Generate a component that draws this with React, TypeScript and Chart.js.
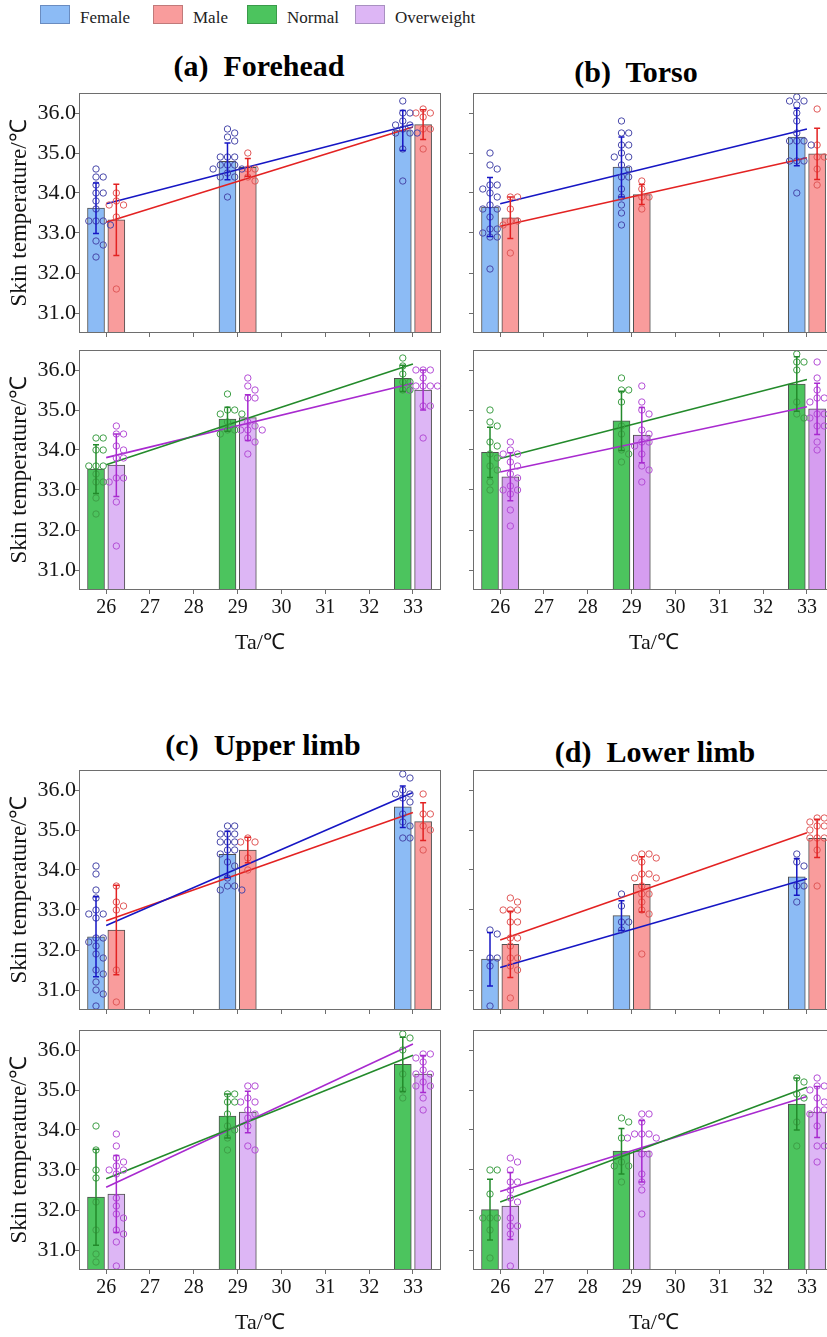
import { useEffect, useRef } from 'react';
import { Chart, registerables } from 'chart.js';

Chart.register(...registerables);

const FONT = "'Liberation Serif', 'Times New Roman', Times, serif";
Chart.defaults.font.family = FONT;

// ---------------- data ----------------
const temps = [26, 29, 33];
const xTickValues = [26, 27, 28, 29, 30, 31, 32, 33];
const yTickValues = [31, 32, 33, 34, 35, 36];
const fitX = [26, 33];
const legendLabels = ['Female', 'Male', 'Normal', 'Overweight'];
const panelTitles = ['(a)  Forehead', '(b)  Torso', '(c)  Upper limb', '(d)  Lower limb'];
const xTitle = 'Ta/℃';
const yTitle = 'Skin temperature/℃';

// (a) Forehead
const foreheadFemaleMean = [33.62, 34.79, 35.56];
const foreheadFemaleSd = [0.63, 0.46, 0.5];
const foreheadFemaleFit = [33.73, 35.72];
const foreheadFemalePts = [
  [34.6, 34.4, 34.4, 34.2, 34.0, 34.0, 33.8, 33.6, 33.3, 33.3, 33.3, 33.2, 32.8, 32.7, 32.4],
  [35.6, 35.5, 35.4, 35.3, 34.9, 34.9, 34.9, 34.7, 34.7, 34.7, 34.6, 34.6, 34.5, 34.4, 34.4, 33.9],
  [36.3, 36.0, 36.0, 35.8, 35.7, 35.7, 35.6, 35.5, 35.5, 35.5, 35.1, 34.3],
];
const foreheadMaleMean = [33.33, 34.64, 35.71];
const foreheadMaleSd = [0.89, 0.22, 0.37];
const foreheadMaleFit = [33.27, 35.65];
const foreheadMalePts = [
  [34.0, 33.8, 33.7, 33.7, 33.4, 31.6],
  [35.0, 34.6, 34.6, 34.4, 34.3],
  [36.1, 36.0, 36.0, 35.9, 35.6, 35.6, 35.1],
];
const foreheadNormalMean = [33.52, 34.77, 35.79];
const foreheadNormalSd = [0.61, 0.3, 0.33];
const foreheadNormalFit = [33.63, 36.15];
const foreheadNormalPts = [
  [34.3, 34.3, 34.0, 34.0, 33.6, 33.6, 33.6, 33.4, 33.2, 33.2, 32.8, 32.4],
  [35.4, 35.0, 35.0, 34.9, 34.9, 34.7, 34.5, 34.5, 34.4],
  [36.3, 36.1, 35.9, 35.7, 35.7, 35.5, 35.5],
];
const foreheadOverMean = [33.62, 34.81, 35.5];
const foreheadOverSd = [0.78, 0.57, 0.5];
const foreheadOverFit = [33.81, 35.67];
const foreheadOverPts = [
  [34.6, 34.4, 34.4, 34.1, 34.0, 33.8, 33.8, 33.3, 33.3, 33.2, 32.7, 31.6],
  [35.8, 35.6, 35.5, 35.3, 35.3, 34.7, 34.6, 34.5, 34.5, 34.5, 34.3, 34.2, 33.9],
  [36.0, 36.0, 36.0, 35.8, 35.6, 35.6, 35.6, 35.6, 35.5, 35.1, 35.1, 34.3],
];

// (b) Torso
const torsoFemaleMean = [33.65, 34.65, 35.4];
const torsoFemaleSd = [0.74, 0.75, 0.72];
const torsoFemaleFit = [33.73, 35.6];
const torsoFemalePts = [
  [35.0, 34.7, 34.6, 34.2, 34.2, 34.1, 34.0, 33.9, 33.7, 33.6, 33.6, 33.4, 33.1, 33.1, 33.0, 32.9, 32.9, 32.1],
  [35.8, 35.5, 35.5, 35.2, 35.2, 35.0, 34.9, 34.9, 34.7, 34.6, 34.4, 34.4, 34.1, 33.9, 33.7, 33.5, 33.2],
  [36.4, 36.3, 36.3, 36.2, 36.0, 35.8, 35.5, 35.3, 35.3, 35.3, 35.2, 34.8, 34.8, 34.8, 34.0],
];
const torsoMaleMean = [33.38, 33.96, 34.98];
const torsoMaleSd = [0.52, 0.25, 0.64];
const torsoMaleFit = [33.17, 34.88];
const torsoMalePts = [
  [33.9, 33.9, 33.6, 33.3, 33.3, 33.2, 32.5],
  [34.3, 34.1, 33.9, 33.9, 33.6],
  [36.1, 35.2, 34.9, 34.9, 34.6, 34.2],
];
const torsoNormalMean = [33.94, 34.73, 35.65];
const torsoNormalSd = [0.63, 0.74, 0.68];
const torsoNormalFit = [33.79, 35.76];
const torsoNormalPts = [
  [35.0, 34.7, 34.6, 34.2, 34.1, 33.9, 33.8, 33.6, 33.5, 33.2, 33.0],
  [35.8, 35.5, 35.5, 35.2, 34.6, 34.4, 34.0, 33.9, 33.7],
  [36.4, 36.2, 36.2, 36.0, 35.2, 34.9, 34.8],
];
const torsoOverMean = [33.33, 34.37, 35.03];
const torsoOverSd = [0.6, 0.69, 0.64];
const torsoOverFit = [33.45, 35.08];
const torsoOverPts = [
  [34.2, 34.0, 33.9, 33.9, 33.7, 33.6, 33.4, 33.3, 33.1, 33.0, 33.0, 32.9, 32.5, 32.1],
  [35.6, 35.2, 35.0, 34.9, 34.5, 34.4, 34.2, 34.2, 34.1, 33.9, 33.6, 33.5, 33.2],
  [36.2, 35.8, 35.5, 35.3, 35.3, 35.2, 34.9, 34.9, 34.8, 34.6, 34.6, 34.2, 34.0],
];

// (c) Upper limb
const upperFemaleMean = [32.33, 34.39, 35.58];
const upperFemaleSd = [1.0, 0.58, 0.52];
const upperFemaleFit = [32.61, 35.94];
const upperFemalePts = [
  [34.1, 33.9, 33.5, 33.3, 33.0, 32.9, 32.9, 32.8, 32.3, 32.3, 32.2, 32.1, 31.9, 31.8, 31.5, 31.4, 31.2, 31.0, 30.9, 30.6],
  [35.1, 35.1, 34.9, 34.9, 34.9, 34.7, 34.7, 34.7, 34.5, 34.5, 34.4, 34.2, 34.1, 33.8, 33.6, 33.6, 33.5, 33.5],
  [36.4, 36.3, 36.0, 35.9, 35.9, 35.8, 35.7, 35.4, 35.2, 35.1, 34.8, 34.8],
];
const upperMaleMean = [32.5, 34.5, 35.21];
const upperMaleSd = [1.12, 0.32, 0.47];
const upperMaleFit = [32.73, 35.44];
const upperMalePts = [
  [33.6, 33.2, 33.1, 33.0, 31.5, 30.7],
  [34.8, 34.7, 34.7, 34.3, 34.0],
  [35.9, 35.4, 35.4, 35.1, 35.0, 34.5],
];
const upperNormalMean = [32.32, 34.35, 35.64];
const upperNormalSd = [1.2, 0.55, 0.68];
const upperNormalFit = [32.78, 35.87];
const upperNormalPts = [
  [34.1, 33.5, 33.0, 32.8, 32.2, 31.5, 30.9, 30.7],
  [34.9, 34.9, 34.7, 34.7, 34.4, 34.1, 34.0, 33.8, 33.5],
  [36.4, 36.3, 36.0, 35.4, 35.0, 34.8],
];
const upperOverMean = [32.4, 34.45, 35.4];
const upperOverSd = [0.96, 0.52, 0.46];
const upperOverFit = [32.57, 36.15];
const upperOverPts = [
  [33.9, 33.6, 33.3, 33.2, 33.1, 33.0, 33.0, 32.9, 32.3, 32.1, 31.9, 31.8, 31.5, 31.4, 31.2, 30.6],
  [35.1, 35.1, 34.8, 34.7, 34.7, 34.5, 34.4, 34.3, 34.1, 33.6, 33.5],
  [35.9, 35.9, 35.8, 35.7, 35.5, 35.4, 35.4, 35.2, 35.1, 35.1, 34.8, 34.5],
];

// (d) Lower limb
const lowerFemaleMean = [31.77, 32.86, 33.83];
const lowerFemaleSd = [0.67, 0.37, 0.46];
const lowerFemaleFit = [31.56, 33.78];
const lowerFemalePts = [
  [32.5, 32.4, 31.8, 31.8, 31.6, 30.6],
  [33.4, 33.1, 32.7, 32.7, 32.5],
  [34.4, 34.2, 34.1, 33.6, 33.6, 33.2],
];
const lowerMaleMean = [32.14, 33.64, 34.79];
const lowerMaleSd = [0.83, 0.69, 0.48];
const lowerMaleFit = [32.25, 34.93];
const lowerMalePts = [
  [33.3, 33.2, 33.0, 33.0, 33.0, 32.7, 32.7, 32.3, 32.3, 32.1, 31.8, 31.8, 31.6, 31.5, 30.8],
  [34.4, 34.4, 34.3, 34.3, 34.2, 33.9, 33.9, 33.8, 33.8, 33.6, 33.4, 33.4, 33.2, 33.0, 32.9, 31.9],
  [35.3, 35.3, 35.2, 35.2, 35.1, 35.1, 35.0, 34.8, 34.8, 34.8, 34.5, 33.6],
];
const lowerNormalMean = [32.01, 33.47, 34.65];
const lowerNormalSd = [0.76, 0.57, 0.65];
const lowerNormalFit = [32.2, 35.07];
const lowerNormalPts = [
  [33.0, 33.0, 32.4, 31.8, 31.8, 31.8, 31.5, 30.8],
  [34.3, 34.2, 33.8, 33.2, 33.1, 33.1, 32.7],
  [35.3, 35.2, 34.9, 34.8, 34.2, 33.6],
];
const lowerOverMean = [32.1, 33.47, 34.45];
const lowerOverSd = [0.84, 0.77, 0.64];
const lowerOverFit = [32.46, 34.84];
const lowerOverPts = [
  [33.3, 33.2, 33.0, 32.7, 32.7, 32.5, 32.3, 32.2, 31.8, 31.6, 31.6, 31.4, 30.6],
  [34.4, 34.4, 34.2, 33.9, 33.9, 33.9, 33.8, 33.8, 33.4, 33.4, 32.9, 32.7, 32.5, 31.9],
  [35.3, 35.1, 35.1, 35.0, 34.8, 34.7, 34.5, 34.5, 34.4, 34.1, 33.6, 33.6, 33.2],
];

// ---------------- layout & style ----------------
const X_MIN = 25.38;
const X_MAX = 33.64;
const Y_MIN = 30.5;
const Y_MAX = 36.5;
const PLOT_W = 362;
const PLOT_H = 240;
const PAD_TOP = 8;
const PAD_RIGHT = 2;
const BAR_OFFSET = 0.232;
const X_PX = PLOT_W / (X_MAX - X_MIN);
const Y_PX = PLOT_H / (Y_MAX - Y_MIN);
const FRAME = '#6e6e6e';
const TEXT = '#151515';

type Style = { bar: string; border: string; line: string; point: string };
const femaleStyle: Style = { bar: '#8CBBF5', border: '#6A8CC0', line: '#1616C4', point: '#4848AA' };
const maleStyle: Style = { bar: '#F99C9C', border: '#C07A7A', line: '#E32222', point: '#E05858' };
const normalStyle: Style = { bar: '#4CC45E', border: '#3A9A4A', line: '#238A2B', point: '#3F9F47' };
const overStyle: Style = { bar: '#DDB6F5', border: '#A890C0', line: '#A82ACF', point: '#B44ED6' };
const overStrongStyle: Style = { ...overStyle, bar: '#D69DF0' };
const legendStyles = [femaleStyle, maleStyle, normalStyle, overStyle];
const legendBoxX = [40, 153, 247, 355];
const legendTextX = [80, 193, 287, 395];
const titlePos = [
  { cx: 259, cy: 66 },
  { cx: 636, cy: 72 },
  { cx: 263, cy: 745 },
  { cx: 655, cy: 752 },
];

type Group = { style: Style; mean: number[]; sd: number[]; pts: number[][]; fit: number[] };
type Spec = { left: number; top: number; yLabels: boolean; xLabels: boolean; groups: Group[] };

const g = (style: Style, mean: number[], sd: number[], pts: number[][], fit: number[]): Group => ({ style, mean, sd, pts, fit });

const specs: Spec[] = [
  { left: 79, top: 93, yLabels: true, xLabels: false, groups: [
    g(femaleStyle, foreheadFemaleMean, foreheadFemaleSd, foreheadFemalePts, foreheadFemaleFit),
    g(maleStyle, foreheadMaleMean, foreheadMaleSd, foreheadMalePts, foreheadMaleFit)] },
  { left: 79, top: 350, yLabels: true, xLabels: true, groups: [
    g(normalStyle, foreheadNormalMean, foreheadNormalSd, foreheadNormalPts, foreheadNormalFit),
    g(overStyle, foreheadOverMean, foreheadOverSd, foreheadOverPts, foreheadOverFit)] },
  { left: 473, top: 93, yLabels: false, xLabels: false, groups: [
    g(femaleStyle, torsoFemaleMean, torsoFemaleSd, torsoFemalePts, torsoFemaleFit),
    g(maleStyle, torsoMaleMean, torsoMaleSd, torsoMalePts, torsoMaleFit)] },
  { left: 473, top: 350, yLabels: false, xLabels: true, groups: [
    g(normalStyle, torsoNormalMean, torsoNormalSd, torsoNormalPts, torsoNormalFit),
    g(overStrongStyle, torsoOverMean, torsoOverSd, torsoOverPts, torsoOverFit)] },
  { left: 79, top: 770, yLabels: true, xLabels: false, groups: [
    g(femaleStyle, upperFemaleMean, upperFemaleSd, upperFemalePts, upperFemaleFit),
    g(maleStyle, upperMaleMean, upperMaleSd, upperMalePts, upperMaleFit)] },
  { left: 79, top: 1030, yLabels: true, xLabels: true, groups: [
    g(normalStyle, upperNormalMean, upperNormalSd, upperNormalPts, upperNormalFit),
    g(overStyle, upperOverMean, upperOverSd, upperOverPts, upperOverFit)] },
  { left: 473, top: 770, yLabels: false, xLabels: false, groups: [
    g(femaleStyle, lowerFemaleMean, lowerFemaleSd, lowerFemalePts, lowerFemaleFit),
    g(maleStyle, lowerMaleMean, lowerMaleSd, lowerMalePts, lowerMaleFit)] },
  { left: 473, top: 1030, yLabels: false, xLabels: true, groups: [
    g(normalStyle, lowerNormalMean, lowerNormalSd, lowerNormalPts, lowerNormalFit),
    g(overStyle, lowerOverMean, lowerOverSd, lowerOverPts, lowerOverFit)] },
];

// simple beeswarm: spread equal / close values sideways so circles do not overlap
function swarm(values: number[], cx: number) {
  const D = 6.6;
  const placed: { dx: number; py: number }[] = [];
  const out: { x: number; y: number }[] = [];
  const sorted = values.slice().sort((a, b) => b - a);
  const cands = [0];
  for (let k = 1; k <= 10; k++) cands.push(k * 3.6, -k * 3.6);
  for (const v of sorted) {
    const py = v * Y_PX;
    let dx = 0;
    for (const c of cands) {
      if (placed.every((p) => Math.hypot(p.dx - c, p.py - py) >= D)) { dx = c; break; }
    }
    placed.push({ dx, py });
    out.push({ x: cx + dx / X_PX, y: v });
  }
  return out;
}

// error bars, plot frame, and serif axis text positioned by the chart's own scales
const decorPlugin = {
  id: 'decor',
  afterDatasetsDraw(chart: any) {
    const { ctx, scales } = chart;
    const yScale = scales.y;
    chart.data.datasets.forEach((ds: any, i: number) => {
      if (!ds.errSd) return;
      const meta = chart.getDatasetMeta(i);
      meta.data.forEach((el: any, j: number) => {
        const m = ds.data[j].y;
        const s = ds.errSd[j];
        const x = el.x;
        const yt = yScale.getPixelForValue(m + s);
        const yb = yScale.getPixelForValue(m - s);
        ctx.save();
        ctx.strokeStyle = ds.errColor;
        ctx.lineWidth = 1.5;
        ctx.beginPath();
        ctx.moveTo(x, yt); ctx.lineTo(x, yb);
        ctx.moveTo(x - 3, yt); ctx.lineTo(x + 3, yt);
        ctx.moveTo(x - 3, yb); ctx.lineTo(x + 3, yb);
        ctx.stroke();
        ctx.restore();
      });
    });
  },
  afterDraw(chart: any, _args: any, opts: any) {
    const { ctx, chartArea: a, scales } = chart;
    ctx.save();
    ctx.strokeStyle = FRAME;
    ctx.lineWidth = 1;
    ctx.strokeRect(Math.round(a.left) + 0.5, Math.round(a.top) + 0.5, Math.round(a.right - a.left) - 1, Math.round(a.bottom - a.top) - 1);
    ctx.fillStyle = TEXT;
    if (opts.yLabels) {
      ctx.font = `22px ${FONT}`;
      ctx.textAlign = 'right';
      ctx.textBaseline = 'middle';
      scales.y.ticks.forEach((t: any) => {
        ctx.fillText(Number(t.value).toFixed(1), a.left - 3, scales.y.getPixelForValue(t.value));
      });
      ctx.save();
      ctx.font = `23px ${FONT}`;
      ctx.textAlign = 'center';
      ctx.translate(a.left - 59, (a.top + a.bottom) / 2);
      ctx.rotate(-Math.PI / 2);
      ctx.fillText(yTitle, 0, 0);
      ctx.restore();
    }
    if (opts.xLabels) {
      ctx.font = `20px ${FONT}`;
      ctx.textAlign = 'center';
      ctx.textBaseline = 'middle';
      scales.x.ticks.forEach((t: any) => {
        ctx.fillText(String(t.value), scales.x.getPixelForValue(t.value), a.bottom + 18);
      });
      ctx.font = `22px ${FONT}`;
      ctx.fillText(xTitle, (a.left + a.right) / 2, a.bottom + 53);
    }
    ctx.restore();
  },
};

function Subplot({ spec }: { spec: Spec }) {
  const ref = useRef<HTMLCanvasElement>(null);
  const axisW = spec.yLabels ? 79 : 10;
  const axisH = spec.xLabels ? 66 : 6;
  const width = axisW + PLOT_W + PAD_RIGHT;
  const height = PAD_TOP + PLOT_H + axisH;

  useEffect(() => {
    const datasets: any[] = [];
    spec.groups.forEach((grp, gi) => {
      const off = gi === 0 ? -BAR_OFFSET : BAR_OFFSET;
      datasets.push({
        type: 'bar',
        data: temps.map((t, i) => ({ x: t + off, y: grp.mean[i] })),
        backgroundColor: grp.style.bar,
        borderColor: '#505050',
        borderWidth: 1,
        borderSkipped: false,
        barThickness: 17,
        grouped: false,
        base: Y_MIN,
        order: 5,
        errSd: grp.sd,
        errColor: grp.style.line,
      });
      datasets.push({
        type: 'line',
        data: fitX.map((x, i) => ({ x, y: grp.fit[i] })),
        borderColor: grp.style.line,
        borderWidth: 1.6,
        pointRadius: 0,
        fill: false,
        order: 3,
      });
      datasets.push({
        type: 'scatter',
        data: temps.flatMap((t, i) => swarm(grp.pts[i], t + off)),
        pointRadius: 3.2,
        pointBorderWidth: 1,
        borderColor: grp.style.point,
        backgroundColor: 'rgba(0,0,0,0)',
        pointBackgroundColor: 'rgba(0,0,0,0)',
        pointBorderColor: grp.style.point,
        clip: false,
        order: 2,
      });
    });

    const chart = new Chart(ref.current as HTMLCanvasElement, {
      type: 'bar',
      data: { datasets },
      plugins: [decorPlugin],
      options: {
        animation: false,
        responsive: false,
        devicePixelRatio: 1,
        events: [],
        font: { family: FONT },
        layout: { autoPadding: false, padding: { left: 0, right: PAD_RIGHT, top: PAD_TOP, bottom: 0 } },
        plugins: {
          legend: { display: false },
          tooltip: { enabled: false },
          title: { display: false },
          decor: { yLabels: spec.yLabels, xLabels: spec.xLabels },
        },
        scales: {
          x: {
            type: 'linear',
            min: X_MIN,
            max: X_MAX,
            offset: false,
            afterBuildTicks: (s: any) => { s.ticks = xTickValues.map((v) => ({ value: v })); },
            afterFit: (s: any) => { s.height = axisH; },
            grid: { display: true, offset: false, drawOnChartArea: false, drawTicks: true, tickLength: 4, color: FRAME },
            border: { display: false },
            ticks: { display: false },
            title: { display: false, text: xTitle },
          },
          y: {
            type: 'linear',
            min: Y_MIN,
            max: Y_MAX,
            afterBuildTicks: (s: any) => { s.ticks = yTickValues.map((v) => ({ value: v })); },
            afterFit: (s: any) => { s.width = axisW; },
            grid: { display: true, drawOnChartArea: false, drawTicks: true, tickLength: 4, color: FRAME },
            border: { display: false },
            ticks: { display: false },
            title: { display: false, text: yTitle },
          },
        },
      } as any,
    });
    return () => { chart.destroy(); };
  }, [spec]);

  return (
    <canvas
      ref={ref}
      width={width}
      height={height}
      style={{ position: 'absolute', left: spec.left - axisW, top: spec.top - PAD_TOP, width, height, display: 'block' }}
    />
  );
}

export default function App() {
  return (
    <div style={{ position: 'fixed', left: 0, top: 0, width: 827, height: 1337, overflow: 'hidden', background: '#fff', fontFamily: FONT }}>
      {legendLabels.map((lab, i) => (
        <div key={lab}>
          <div style={{ position: 'absolute', left: legendBoxX[i], top: 5, width: 30, height: 19, boxSizing: 'border-box', background: legendStyles[i].bar, border: `1px solid ${legendStyles[i].border}` }} />
          <div style={{ position: 'absolute', left: legendTextX[i], top: 7, lineHeight: '22px', fontSize: 17, color: '#222', whiteSpace: 'nowrap' }}>{lab}</div>
        </div>
      ))}
      {panelTitles.map((t, i) => (
        <div key={t} style={{ position: 'absolute', left: titlePos[i].cx - 150, width: 300, top: titlePos[i].cy - 18, lineHeight: '36px', textAlign: 'center', fontWeight: 'bold', fontSize: 30, whiteSpace: 'pre', color: '#000' }}>{t}</div>
      ))}
      {specs.map((s, i) => <Subplot key={i} spec={s} />)}
    </div>
  );
}
